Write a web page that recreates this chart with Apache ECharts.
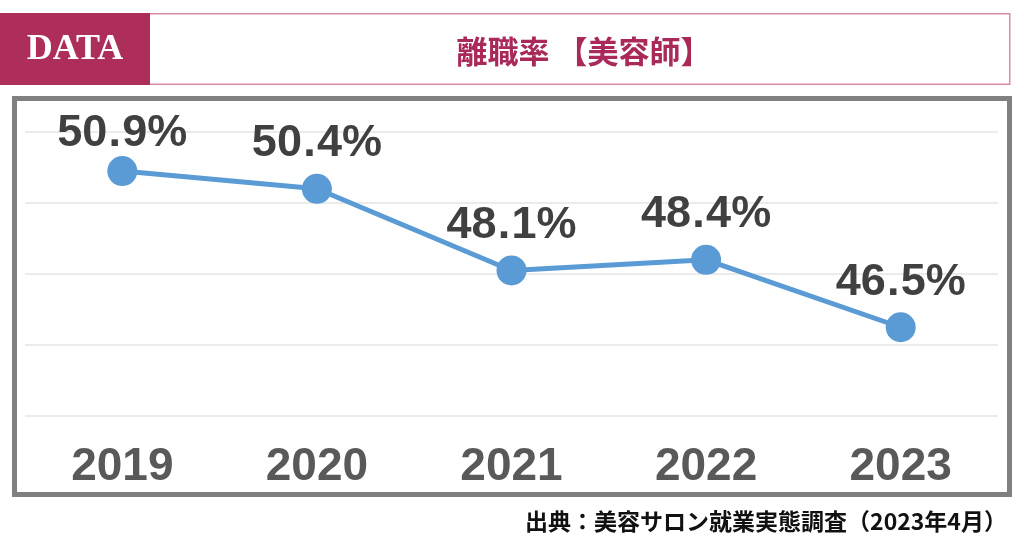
<!DOCTYPE html>
<html><head><meta charset="utf-8">
<script src="https://cdn.jsdelivr.net/npm/echarts@6/dist/echarts.min.js"></script>
<style>html,body{margin:0;padding:0;background:#fff}#c{width:1024px;height:538px}</style>
</head><body><div id="c"></div>
<script>
const categories = ['2019', '2020', '2021', '2022', '2023'];
const rates = [50.9, 50.4, 48.1, 48.4, 46.5];
const yMin = 44, yMax = 52, yStep = 2;
const titleText = '離職率 【美容師】';
const badgeText = 'DATA';
const sourceText = '出典：美容サロン就業実態調査（2023年4月）';

const pink = '#AE2E5B';
const blue = '#5B9BD5';
const chart = echarts.init(document.getElementById('c'), null, {renderer: 'canvas'});

function fmt(p) {
  const s = Number(p.value).toFixed(1).split('.');
  return '{n|' + s[0] + '}{p|.}{n|' + s[1] + '}{q|%}';
}
const condensed = '"Liberation Sans Narrow", "DejaVu Sans Condensed", "Liberation Sans", Arial, sans-serif';
const labelBase = {fontWeight: 'bold', fontSize: 45, color: '#404040', lineHeight: 46, fontFamily: '"Liberation Sans", Arial, sans-serif'};

const option = {
  animation: false,
  backgroundColor: '#fff',
  grid: {left: 25, right: 26, top: 132, bottom: 122},
  xAxis: {
    type: 'category', data: categories, boundaryGap: true,
    axisLine: {show: false}, axisTick: {show: false},
    axisLabel: {margin: 28, color: '#595959', fontFamily: '"Liberation Sans", Arial, sans-serif', fontWeight: 'bold', fontSize: 46, lineHeight: 46}
  },
  yAxis: {
    type: 'value', min: yMin, max: yMax, interval: yStep,
    axisLabel: {show: false}, axisLine: {show: false}, axisTick: {show: false},
    splitLine: {lineStyle: {color: '#E4E4E4', width: 1.5}}
  },
  series: [{
    type: 'line',
    data: rates.map((v, i) => i === 0 ? {value: v, label: {distance: -1}} : v),
    symbol: 'circle', symbolSize: 30,
    itemStyle: {color: blue},
    lineStyle: {color: blue, width: 5},
    label: {
      show: true, position: 'top', distance: 7, formatter: fmt,
      rich: {
        n: Object.assign({}, labelBase),
        p: Object.assign({}, labelBase, {width: 15, align: 'center'}),
        q: Object.assign({}, labelBase)
      }
    }
  }],
  graphic: [
    {type: 'rect', shape: {x: 0.75, y: 13.75, width: 1009, height: 70.5}, style: {fill: '#fff', stroke: '#D98AA8', lineWidth: 1.5}, z: 1},
    {type: 'rect', shape: {x: 0, y: 13, width: 150, height: 72}, style: {fill: pink}, z: 2},
    {type: 'text', x: 75, y: 50, z: 3, style: {text: badgeText, font: 'bold 36px "Liberation Serif"', fill: '#fff', textAlign: 'center', textVerticalAlign: 'middle', shadowColor: 'rgba(60,0,20,0.6)', shadowOffsetX: 1.5, shadowOffsetY: 1.5, shadowBlur: 1}},
    {type: 'text', x: 584, y: 51, z: 3, style: {text: titleText, font: 'bold 31px "Noto Sans CJK JP"', fill: '#A8295A', textAlign: 'center', textVerticalAlign: 'middle'}},
    {type: 'rect', shape: {x: 14.5, y: 98.5, width: 995, height: 396}, style: {fill: 'none', stroke: '#808080', lineWidth: 5}, z: 3},
    {type: 'text', x: 766, y: 521, z: 3, style: {text: sourceText, font: 'bold 23px "Noto Sans CJK JP"', fill: '#111', textAlign: 'center', textVerticalAlign: 'middle'}}
  ]
};
chart.setOption(option);
</script>
</body></html>
